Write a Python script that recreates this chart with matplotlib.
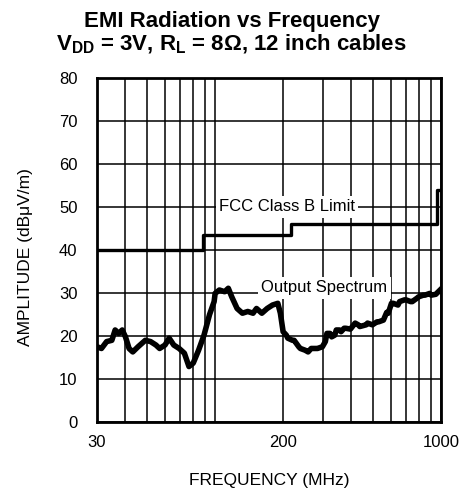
import matplotlib
matplotlib.use("Agg")
import matplotlib.pyplot as plt

plt.rcParams['font.family'] = ['Liberation Sans', 'DejaVu Sans']
plt.rcParams['mathtext.fontset'] = 'custom'
plt.rcParams['mathtext.rm'] = 'Liberation Sans'
plt.rcParams['mathtext.bf'] = 'Liberation Sans:bold'
plt.rcParams['mathtext.default'] = 'bf'

# FCC class B limit (MHz, dBuV/m), step after each frequency
fcc_freq = [30, 88, 216, 960, 1000]
fcc_level = [40, 43.5, 46, 54, 54]

spec_freq = [30, 31.4, 33.1, 34.9, 36.1, 37.4, 38.8, 40.1, 41.6, 43.2, 45.6, 49.1,
             51.8, 54.7, 56.8, 60, 62.6, 65.6, 69.3, 73.1, 76.6, 80, 84.5, 89.3,
             94.5, 99, 100, 103.3, 104.4, 110.2, 114.4, 118.5, 125.1, 132.1, 139.5,
             147.2, 152.5, 161, 170, 179.5, 189.5, 194.5, 200, 206.6, 209.8, 220,
             223.7, 234.6, 238.4, 250.2, 258, 266.4, 279.4, 284, 298.5, 307.6,
             312.6, 322.7, 328, 338.5, 344, 355, 361, 372.5, 378.6, 397, 416.8,
             430, 437, 466, 473, 497, 521, 530, 556, 575, 584, 603.5, 614, 645,
             656, 689, 700, 734, 746, 783, 795, 835, 849, 891, 905, 948, 991]
spec_db = [17.5, 17.1, 18.7, 19.0, 21.4, 20.6, 21.4, 19.8, 17.1, 16.3, 17.5, 19.0,
           18.7, 17.9, 17.1, 17.9, 19.5, 17.9, 17.1, 16.0, 12.9, 13.7, 16.7, 20.2,
           25.0, 28.0, 29.9, 30.5, 30.7, 30.3, 31.1, 29.1, 26.4, 25.3, 25.7,
           25.3, 26.4, 25.3, 26.4, 27.2, 27.6, 25.3, 21.0, 20.2, 19.5, 19.0,
           19.0, 17.5, 17.1, 16.7, 16.3, 17.1, 17.1, 17.1, 17.5, 18.7,
           20.6, 20.6, 19.8, 20.2, 21.4, 21.4, 21.0, 21.8, 21.8, 21.6, 23.0,
           22.6, 22.2, 22.6, 23.0, 22.6, 23.3, 23.3, 23.7, 25.5, 25.3, 27.6, 27.6, 27.2,
           28.0, 28.4, 28.4, 28.0, 28.0, 28.8, 29.1, 29.5, 29.5, 29.9, 29.5, 29.7, 30.7]

major_x = [30, 200, 1000]
minor_x = [40, 50, 60, 70, 80, 90, 100, 300, 400, 500, 600, 700, 800, 900]
y_ticks = [0, 10, 20, 30, 40, 50, 60, 70, 80]

fig = plt.figure(figsize=(4.63, 4.99), dpi=100)
ax = fig.add_axes([0.2095, 0.1543, 0.743, 0.6894])

ax.set_xscale('log')
ax.set_xlim(30, 1000)
ax.set_ylim(0, 80)
ax.set_xticks(major_x)
ax.set_xticklabels([str(v) for v in major_x])
ax.set_xticks(minor_x, minor=True)
ax.set_xticklabels([], minor=True)
ax.set_yticks(y_ticks)
ax.tick_params(which='both', length=0, labelsize=12)
ax.tick_params(axis='y', pad=14)
ax.tick_params(axis='x', pad=9)
ax.grid(True, which='both', color='black', linewidth=1.1)
ax.set_axisbelow(True)
for s in ax.spines.values():
    s.set_linewidth(2)

ax.step(fcc_freq, fcc_level, where='post', color='black', linewidth=2.4, zorder=3)
ax.plot(spec_freq, spec_db, color='black', linewidth=4, zorder=3,
        solid_joinstyle='round')

box = dict(boxstyle='square,pad=0.2', facecolor='white', edgecolor='none')
ax.text(104, 50, 'FCC Class B Limit', fontsize=12, va='center', ha='left',
        bbox=box, zorder=4)
ax.text(160, 31.2, 'Output Spectrum', fontsize=12, va='center', ha='left',
        bbox=box, zorder=4)

ax.set_xlabel('FREQUENCY (MHz)', fontsize=12.5, labelpad=17)
ax.set_ylabel('AMPLITUDE (dBμV/m)', fontsize=12.5)
ax.yaxis.set_label_coords(-0.185, 0.48)

fig.text(0.5, 1 - 27 / 499, 'EMI Radiation vs Frequency', ha='center',
         va='baseline', fontsize=16, fontweight='bold')
fig.text(0.5, 1 - 50 / 499, r'V$_{DD}$ = 3V, R$_{L}$ = 8Ω, 12 inch cables',
         ha='center', va='baseline', fontsize=16, fontweight='bold')

fig.savefig('out.png', dpi=100)
